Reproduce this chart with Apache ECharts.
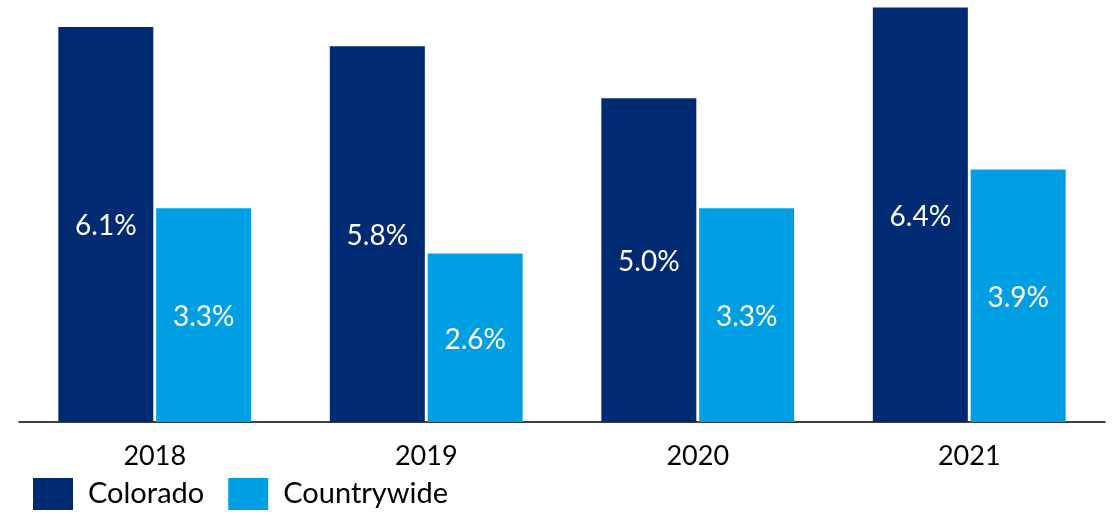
<!DOCTYPE html>
<html>
<head>
<meta charset="utf-8">
<script src="https://cdn.jsdelivr.net/npm/echarts@6/dist/echarts.min.js"></script>
<style>html,body{margin:0;padding:0;background:#fff}#c{width:1115px;height:515px}</style>
</head>
<body>
<div id="c"></div>
<script>
var categories = ['2018', '2019', '2020', '2021'];
var colorado = [6.1, 5.8, 5.0, 6.4];
var countrywide = [3.3, 2.6, 3.3, 3.9];
var seriesNames = ['Colorado', 'Countrywide'];

var chart = echarts.init(document.getElementById('c'));
var font = 'Lato';
var lbl = {
  show: true, position: 'inside', color: '#fff', fontSize: 28, fontFamily: font,
  offset: [0, 2],
  formatter: function (p) { return p.value.toFixed(1) + '%'; }
};
chart.setOption({
  animation: false,
  grid: { left: 19, width: 1086, top: 1, bottom: 93 },
  legend: {
    left: 33, top: 478, padding: 0, itemWidth: 40, itemHeight: 32, itemGap: 24,
    icon: 'rect',
    textStyle: { fontSize: 29, fontFamily: font, color: '#000', padding: [0, 0, 0, 10] },
    data: seriesNames
  },
  xAxis: {
    type: 'category', data: categories,
    axisLine: { lineStyle: { color: '#000', width: 1.5 } },
    axisTick: { show: false },
    axisLabel: { fontSize: 27, fontFamily: font, color: '#000', margin: 21 }
  },
  yAxis: { type: 'value', min: 0, max: 6.5, show: false, splitLine: { show: false } },
  series: [
    { name: seriesNames[0], type: 'bar', data: colorado, barWidth: 95, barGap: '3%',
      itemStyle: { color: '#002B73' }, label: lbl },
    { name: seriesNames[1], type: 'bar', data: countrywide, barWidth: 95,
      itemStyle: { color: '#009FE3' }, label: lbl }
  ]
});
</script>
</body>
</html>
